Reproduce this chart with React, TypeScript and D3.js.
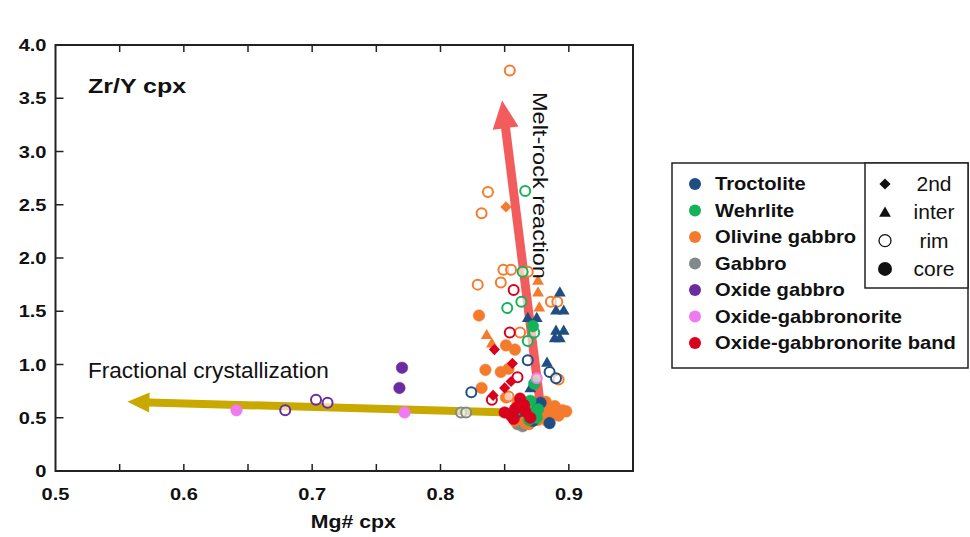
import React from "react";
import * as d3 from "d3";

const lithologies = [
  "Troctolite",
  "Wehrlite",
  "Olivine gabbro",
  "Gabbro",
  "Oxide gabbro",
  "Oxide-gabbronorite",
  "Oxide-gabbronorite band",
];
const lithColors = ["#1f4f82", "#13b35a", "#f47b2e", "#7f8a8a", "#6a2ca0", "#f07af0", "#d8001c"];
const pointTypes = ["2nd", "inter", "rim", "core"];

const xTicksMajor = [0.5, 0.6, 0.7, 0.8, 0.9];
const xTicksMinor = [0.55, 0.6, 0.65, 0.7, 0.75, 0.8, 0.85, 0.9];
const yTicks = [0, 0.5, 1.0, 1.5, 2.0, 2.5, 3.0, 3.5, 4.0];
const yTickLabels = ["0", "0.5", "1.0", "1.5", "2.0", "2.5", "3.0", "3.5", "4.0"];

// [Mg#, Zr/Y]
const troctoliteInter = [[0.893,1.68],[0.890,1.51],[0.896,1.51],[0.890,1.32],[0.896,1.32],[0.868,1.44],[0.875,1.44],[0.889,1.25],[0.893,1.25],[0.883,1.02],[0.870,0.78],[0.875,0.62]];
const troctoliteRim = [[0.868,1.04],[0.885,0.93],[0.824,0.74],[0.890,0.87]];
const troctoliteCore = [[0.872,0.47],[0.885,0.45],[0.878,0.64],[0.860,0.55]];

const wehrliteRim = [[0.866,2.63],[0.864,1.87],[0.863,1.59],[0.852,1.53],[0.873,1.30],[0.868,1.22]];
const wehrliteCore = [[0.873,0.82],[0.870,0.66],[0.868,0.55],[0.875,0.50],[0.862,0.58],[0.872,1.36],[0.869,0.48],[0.876,0.58]];

const olgabRim = [[0.854,3.76],[0.837,2.62],[0.832,2.42],[0.829,1.75],[0.847,1.77],[0.849,1.89],[0.855,1.89],[0.886,1.59],[0.891,1.59],[0.862,1.30],[0.892,0.86],[0.853,0.70],[0.868,1.87]];
const olgab2nd = [[0.851,2.48]];
const olgabInter = [[0.876,1.79],[0.876,1.68],[0.877,1.54],[0.836,1.28],[0.840,1.20]];
const olgabCore = [[0.830,1.46],[0.851,1.18],[0.858,1.14],[0.847,0.93],[0.853,0.96],[0.832,0.78],[0.851,0.69],[0.885,0.57],[0.890,0.55],[0.895,0.57],[0.880,0.52],[0.876,0.48],[0.870,0.60],[0.865,0.52],[0.860,0.63],[0.866,0.45],[0.882,0.65],[0.889,0.61],[0.878,0.55],[0.835,0.95],[0.884,0.50],[0.872,0.57],[0.868,0.62],[0.880,0.60],[0.886,0.53],[0.892,0.52],[0.898,0.56],[0.874,0.53],[0.862,0.50],[0.858,0.47],[0.869,0.44],[0.883,0.47]];

const gabbroRim = [[0.816,0.55],[0.820,0.55]];
const gabbroCore = [[0.862,0.47],[0.866,0.50],[0.860,0.44],[0.864,0.42]];

const oxgabRim = [[0.679,0.57],[0.703,0.67],[0.712,0.64]];
const oxgabCore = [[0.770,0.97],[0.768,0.78]];

const oxgnRim = [[0.875,0.87]];
const oxgnCore = [[0.772,0.55],[0.641,0.57]];

const bandRim = [[0.857,1.70],[0.854,1.30],[0.840,0.67],[0.860,0.88]];
const band2nd = [[0.842,1.14],[0.856,1.01],[0.855,0.84],[0.841,0.71],[0.850,0.78]];
const bandCore = [[0.858,0.58],[0.855,0.52],[0.865,0.62],[0.870,0.50],[0.862,0.68],[0.850,0.55],[0.860,0.60],[0.857,0.49],[0.866,0.56]];

const series = [
  { lith: 3, type: "rim", pts: gabbroRim },
  { lith: 3, type: "core", pts: gabbroCore },
  { lith: 2, type: "core", pts: olgabCore },
  { lith: 2, type: "rim", pts: olgabRim },
  { lith: 2, type: "2nd", pts: olgab2nd },
  { lith: 2, type: "inter", pts: olgabInter },
  { lith: 0, type: "inter", pts: troctoliteInter },
  { lith: 0, type: "rim", pts: troctoliteRim },
  { lith: 0, type: "core", pts: troctoliteCore },
  { lith: 1, type: "rim", pts: wehrliteRim },
  { lith: 1, type: "core", pts: wehrliteCore },
  { lith: 4, type: "rim", pts: oxgabRim },
  { lith: 4, type: "core", pts: oxgabCore },
  { lith: 5, type: "rim", pts: oxgnRim },
  { lith: 5, type: "core", pts: oxgnCore },
  { lith: 6, type: "rim", pts: bandRim },
  { lith: 6, type: "2nd", pts: band2nd },
  { lith: 6, type: "core", pts: bandCore },
];

// arrows: [tail, tip] in data coords
const meltRockArrow = [[0.878, 0.60], [0.848, 3.48]];
const fracArrow = [[0.893, 0.535], [0.556, 0.65]];

const W = 970, H = 537;
const x = d3.scaleLinear().domain([0.5, 0.95]).range([55.5, 633]);
const y = d3.scaleLinear().domain([0, 4]).range([471, 45]);

const triPath = d3.symbol(d3.symbolTriangle, 60)() as string;
const diaPath = d3.symbol(d3.symbolSquare, 62)() as string;

function Marker({ type, color, cx, cy, scale = 1 }: any) {
  if (type === "rim")
    return <circle cx={cx} cy={cy} r={5 * scale} fill="white" fillOpacity={0.6} stroke={color} strokeWidth={2} />;
  if (type === "core")
    return <circle cx={cx} cy={cy} r={5.8 * scale} fill={color} stroke={color} strokeOpacity={0.5} strokeWidth={1} />;
  if (type === "inter")
    return <path d={triPath} transform={`translate(${cx},${cy + 1}) scale(${scale})`} fill={color} />;
  return <path d={diaPath} transform={`translate(${cx},${cy}) rotate(45) scale(${scale})`} fill={color} />;
}

function arrowPath(tail: number[], tip: number[], shaft: number, headLen: number, headW: number) {
  const x0 = x(tail[0]), y0 = y(tail[1]), x1 = x(tip[0]), y1 = y(tip[1]);
  const dx = x1 - x0, dy = y1 - y0;
  const L = Math.hypot(dx, dy);
  const ux = dx / L, uy = dy / L, nx = -uy, ny = ux;
  const bx = x1 - ux * headLen, by = y1 - uy * headLen;
  const p = d3.path();
  p.moveTo(x0 + nx * shaft / 2, y0 + ny * shaft / 2);
  p.lineTo(bx + nx * shaft / 2, by + ny * shaft / 2);
  p.lineTo(bx + nx * headW / 2, by + ny * headW / 2);
  p.lineTo(x1, y1);
  p.lineTo(bx - nx * headW / 2, by - ny * headW / 2);
  p.lineTo(bx - nx * shaft / 2, by - ny * shaft / 2);
  p.lineTo(x0 - nx * shaft / 2, y0 - ny * shaft / 2);
  p.closePath();
  return p.toString();
}

export default function App() {
  const font = "'Liberation Sans', Arial, sans-serif";
  const sx = 1.18;
  const [x0, x1] = x.range();
  const [yb, yt] = y.range();
  return (
    <svg width={W} height={H} style={{ position: "absolute", left: 0, top: 0, background: "white" }} fontFamily={font}>
      <rect width={W} height={H} fill="white" />
      {/* arrows */}
      <path d={arrowPath(fracArrow[0], fracArrow[1], 8, 22, 20)} fill="#c9a800" />
      <path d={arrowPath(meltRockArrow[0], meltRockArrow[1], 9, 28, 26)} fill="#f25c5c" />

      {/* points */}
      {series.map((s, i) =>
        s.pts.map((p, j) => (
          <Marker key={`${i}-${j}`} type={s.type} color={lithColors[s.lith]} cx={x(p[0])} cy={y(p[1])} />
        ))
      )}

      {/* frame */}
      <rect x={x0} y={yt} width={x1 - x0} height={yb - yt} fill="none" stroke="#222" strokeWidth={2} />
      {xTicksMinor.map((t) => (
        <g key={t}>
          <line x1={x(t)} x2={x(t)} y1={yb} y2={yb - 7} stroke="#222" strokeWidth={1.5} />
          <line x1={x(t)} x2={x(t)} y1={yt} y2={yt + 7} stroke="#222" strokeWidth={1.5} />
        </g>
      ))}
      {yTicks.map((t) => (
        <line key={t} x1={x0} x2={x0 + 8} y1={y(t)} y2={y(t)} stroke="#222" strokeWidth={1.5} />
      ))}
      {xTicksMajor.map((t) => (
        <text key={t} transform={`translate(${x(t)},${yb + 29}) scale(${sx},1)`} textAnchor="middle" fontSize={17} fontWeight="bold" fill="#111">
          {d3.format(".1f")(t)}
        </text>
      ))}
      {yTicks.map((t, i) => (
        <text key={t} transform={`translate(${x0 - 9},${y(t) + 6}) scale(${sx},1)`} textAnchor="end" fontSize={17} fontWeight="bold" fill="#111">
          {yTickLabels[i]}
        </text>
      ))}
      <text transform={`translate(${(x0 + x1) / 2 + 9},${528}) scale(${sx},1)`} textAnchor="middle" fontSize={18} fontWeight="bold" fill="#111">
        Mg# cpx
      </text>
      <text transform={`translate(88,93) scale(1.25,1)`} fontSize={20} fontWeight="bold" fill="#111">
        Zr/Y cpx
      </text>
      <text transform={`translate(88,378) scale(1.05,1)`} fontSize={21.5} fill="#111">
        Fractional crystallization
      </text>
      <text transform={`translate(533,92) rotate(90) scale(1.12,1)`} fontSize={21} fill="#111">
        Melt-rock reaction
      </text>

      {/* legend */}
      <rect x={672} y={163} width={296} height={205} fill="white" stroke="#222" strokeWidth={1.5} />
      <rect x={865} y={163} width={103} height={125} fill="white" stroke="#222" strokeWidth={1.5} />
      {lithologies.map((l, i) => (
        <g key={l} transform={`translate(0,${184 + i * 26.5})`}>
          <circle cx={695} cy={0} r={6} fill={lithColors[i]} />
          <text transform={`translate(715,6) scale(1.12,1)`} fontSize={18} fontWeight="bold" fill="#111">
            {l}
          </text>
        </g>
      ))}
      {pointTypes.map((t, i) => (
        <g key={t} transform={`translate(0,${184 + i * 28.3})`}>
          {t === "rim" ? (
            <circle cx={885} cy={0} r={6} fill="white" stroke="#111" strokeWidth={1.3} />
          ) : t === "core" ? (
            <circle cx={885} cy={0} r={7} fill="#111" />
          ) : (
            <Marker type={t} color="#111" cx={885} cy={0} scale={1.0} />
          )}
          <text x={934} y={7} textAnchor="middle" fontSize={21} fill="#111">
            {t}
          </text>
        </g>
      ))}
    </svg>
  );
}
